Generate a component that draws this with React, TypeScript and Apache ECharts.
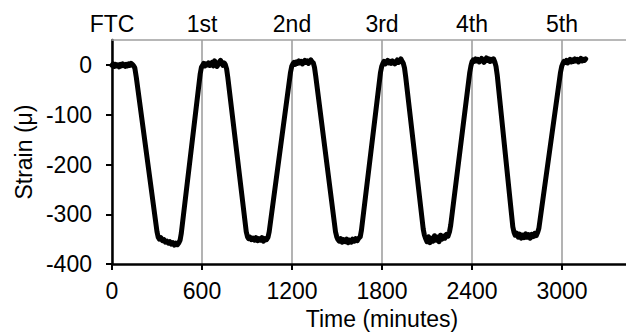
import React, { useEffect, useRef } from "react";
import * as echarts from "echarts";

const timeMinutes: number[] = [
  0, 8, 16, 24, 32, 40, 48, 56, 64, 72, 80, 88, 96, 104, 112, 120, 128, 136, 144, 152, 162,
  300, 308,
  316, 326, 336, 346, 356, 366, 376, 386, 396, 406, 416, 426, 436, 446, 454, 462,
  588, 596,
  604, 612, 620, 628, 636, 644, 652, 660, 668, 676, 684, 692, 700, 708, 716, 724, 732, 740, 748, 756, 764, 772,
  895, 903,
  910, 920, 930, 940, 950, 960, 970, 980, 990, 1000, 1010, 1020, 1030, 1040, 1048,
  1190, 1198,
  1206, 1214, 1222, 1230, 1238, 1246, 1254, 1262, 1270, 1278, 1286, 1294, 1302, 1310, 1318, 1326, 1334, 1342, 1350, 1358,
  1490, 1498,
  1505, 1515, 1525, 1535, 1545, 1555, 1565, 1575, 1585, 1595, 1605, 1615, 1625, 1635, 1645, 1655, 1663,
  1790, 1798,
  1806, 1814, 1822, 1830, 1838, 1846, 1854, 1862, 1870, 1878, 1886, 1894, 1902, 1910, 1918, 1926, 1934, 1942, 1950, 1958,
  2075, 2083,
  2090, 2100, 2110, 2120, 2130, 2140, 2150, 2160, 2170, 2180, 2190, 2200, 2210, 2220, 2230, 2240, 2250, 2258,
  2385, 2393,
  2400, 2408, 2416, 2424, 2432, 2440, 2448, 2456, 2464, 2472, 2480, 2488, 2496, 2504, 2512, 2520, 2528, 2536, 2544, 2552, 2560, 2568,
  2672, 2680,
  2688, 2698, 2708, 2718, 2728, 2738, 2748, 2758, 2768, 2778, 2788, 2798, 2808, 2818, 2828, 2838, 2846,
  2990, 2998,
  3006, 3014, 3022, 3030, 3038, 3046, 3054, 3062, 3070, 3078, 3086, 3094, 3102, 3110, 3118, 3126, 3134, 3142, 3150, 3158,
];

const strainMicro: number[] = [
  -1, 2, -3, 1, -2, 0, -4, 1, -2, 2, -1, -3, 1, -2, 2, -1, 3, 1, -2, -6, -25,
  -335, -346,
  -350, -347, -353, -351, -356, -354, -358, -355, -360, -357, -362, -358, -361, -357, -352, -338,
  -18, -5,
  -1, 3, -2, 2, 0, 4, -1, 1, 5, -2, 8, 2, -3, 1, 6, 9, 3, -1, 4, 0, -8, -25,
  -335, -345,
  -349, -346, -351, -348, -352, -347, -353, -349, -352, -347, -354, -349, -351, -346, -335,
  -15, -3,
  2, 5, 1, 6, 3, 8, 4, 7, 2, 6, 9, 5, 8, 3, 7, 10, 6, 4, -5, -22,
  -335, -345,
  -350, -354, -349, -356, -351, -355, -350, -357, -352, -356, -350, -354, -349, -353, -348, -345, -332,
  -15, -3,
  3, 7, 2, 6, 9, 4, 7, 3, 8, 5, 2, 6, 10, 5, 8, 12, 7, 3, -6, -24,
  -330, -342,
  -348, -355, -345, -357, -348, -354, -343, -352, -346, -355, -342, -350, -344, -348, -340, -344, -335, -322,
  -15, -2,
  6, 10, 7, 12, 8, 11, 6, 9, 13, 8, 5, 10, 14, 9, 12, 7, 11, 8, 12, 6, -3, -20,
  -325, -336,
  -342, -338, -346, -340, -348, -342, -347, -339, -346, -341, -348, -340, -345, -338, -343, -336, -328,
  -15, -3,
  3, 7, 5, 9, 4, 8, 11, 6, 10, 7, 12, 8, 11, 6, 10, 13, 8, 11, 9, 12,
];

const cycleLabels: string[] = ["FTC", "1st", "2nd", "3rd", "4th", "5th"];
const xTickStep = 600;
const yMin = -400;
const yMax = 50;

const FONT = "'Liberation Sans', Arial, sans-serif";
const FS = 23;

export default function App() {
  const ref = useRef<HTMLDivElement>(null);

  useEffect(() => {
    if (!ref.current) return;
    const chart = echarts.init(ref.current, null, { renderer: "svg" });
    const data = timeMinutes.map((t, i) => [t, strainMicro[i]]);
    chart.setOption({
      animation: false,
      backgroundColor: "#ffffff",
      grid: { left: 112, top: 40, width: 540, height: 228, containLabel: false },
      xAxis: [
        {
          type: "value",
          position: "bottom",
          min: 0,
          max: 3600,
          interval: xTickStep,
          name: "Time (minutes)",
          nameLocation: "middle",
          nameGap: 41,
          nameTextStyle: { fontFamily: FONT, fontSize: FS, color: "#000" },
          axisLine: { show: true, onZero: false, lineStyle: { color: "#000", width: 2.5 } },
          axisTick: { show: true, inside: false, length: 6, lineStyle: { color: "#000", width: 2 } },
          axisLabel: {
            fontFamily: FONT,
            fontSize: FS,
            color: "#000",
            margin: 15,
            showMaxLabel: false,
            formatter: (v: number) => String(v),
          },
          splitLine: { show: true, lineStyle: { color: "#9a9a9a", width: 1.5 } },
        },
        {
          type: "value",
          position: "top",
          min: 0,
          max: 3600,
          interval: xTickStep,
          axisLine: { show: true, onZero: false, lineStyle: { color: "#a0a0a0", width: 1.5 } },
          axisTick: { show: false },
          axisLabel: {
            fontFamily: FONT,
            fontSize: FS,
            color: "#000",
            margin: 5,
            showMaxLabel: false,
            formatter: (v: number) => cycleLabels[Math.round(v / xTickStep)] ?? "",
          },
          splitLine: { show: false },
        },
      ],
      yAxis: {
        type: "value",
        min: yMin,
        max: yMax,
        interval: 100,
        name: "Strain (μ)",
        nameLocation: "middle",
        nameGap: 75,
        nameTextStyle: { fontFamily: FONT, fontSize: FS, color: "#000" },
        axisLine: { show: true, onZero: false, lineStyle: { color: "#000", width: 2.5 } },
        axisTick: { show: true, inside: false, length: 6, lineStyle: { color: "#000", width: 2 } },
        axisLabel: { fontFamily: FONT, fontSize: FS, color: "#000", margin: 20, showMaxLabel: false },
        splitLine: { show: false },
      },
      series: [
        {
          type: "line",
          data,
          xAxisIndex: 0,
          showSymbol: false,
          symbol: "none",
          lineStyle: { color: "#000", width: 5, join: "round", cap: "round" },
          z: 5,
        },
      ],
    });
    return () => chart.dispose();
  }, []);

  return (
    <div
      style={{
        position: "fixed",
        left: 0,
        top: 0,
        width: 626,
        height: 335,
        overflow: "hidden",
        background: "#fff",
      }}
    >
      <div ref={ref} style={{ width: 680, height: 335 }} />
    </div>
  );
}
